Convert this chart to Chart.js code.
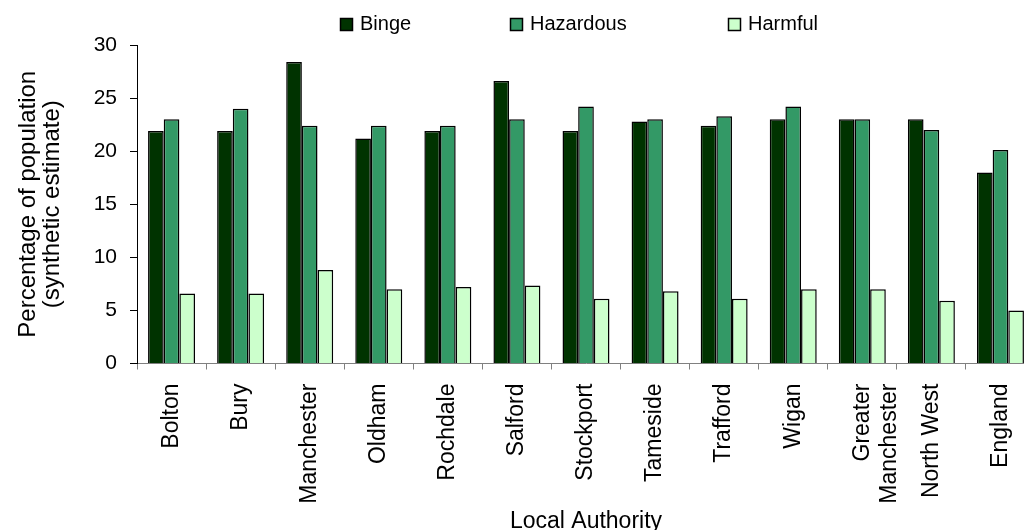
<!DOCTYPE html>
<html>
<head>
<meta charset="utf-8">
<script src="https://cdn.jsdelivr.net/npm/chart.js@4/dist/chart.umd.min.js"></script>
<style>
  html, body { margin: 0; padding: 0; background: #fff; overflow: hidden; }
  #wrap { width: 1160px; height: 530px; }
</style>
</head>
<body>
<div id="wrap"><canvas id="myBarChart" width="1160" height="530"></canvas></div>
<script>
// 数据
const categories = ['Bolton', 'Bury', 'Manchester', 'Oldham', 'Rochdale', 'Salford', 'Stockport',
    'Tameside', 'Trafford', 'Wigan', ['Greater', 'Manchester'], 'North West', 'England'];
const seriesNames = ['Binge', 'Hazardous', 'Harmful'];
const binge     = [21.9, 21.9, 28.4, 21.2, 21.9, 26.6, 21.9, 22.8, 22.4, 23.0, 23.0, 23.0, 18.0];
const hazardous = [23.0, 24.0, 22.4, 22.4, 22.4, 23.0, 24.2, 23.0, 23.3, 24.2, 23.0, 22.0, 20.1];
const harmful   = [6.6, 6.6, 8.8, 7.0, 7.2, 7.35, 6.1, 6.8, 6.1, 7.0, 7.0, 5.9, 5.0];
const yTicks    = [0, 5, 10, 15, 20, 25, 30];

const FONT = 'Liberation Sans, Arial, sans-serif';
Chart.defaults.color = '#000';
Chart.defaults.font.family = FONT;

// 图例 - 自己画，间距跟原图一致
const legendPlugin = {
    id: 'wideLegend',
    afterDraw(chart) {
        const ctx = chart.ctx;
        const xs = [340, 510, 728];
        ctx.save();
        ctx.font = '20px ' + FONT;
        ctx.textBaseline = 'alphabetic';
        ctx.textAlign = 'left';
        chart.data.datasets.forEach((ds, i) => {
            ctx.fillStyle = ds.backgroundColor;
            ctx.fillRect(xs[i] + 0.5, 18.5, 12, 12);
            ctx.lineWidth = 1.5;
            ctx.strokeStyle = '#000';
            ctx.strokeRect(xs[i] + 0.5, 18.5, 12, 12);
            ctx.fillStyle = '#000';
            ctx.fillText(ds.label, xs[i] + 20, 30);
        });
        ctx.restore();
    }
};

const ctxBar = document.getElementById('myBarChart').getContext('2d');
const myBarChart = new Chart(ctxBar, {
    type: 'bar',
    data: {
        labels: categories,
        datasets: [
            { label: seriesNames[0], data: binge, backgroundColor: '#003300' },
            { label: seriesNames[1], data: hazardous, backgroundColor: '#339966' },
            { label: seriesNames[2], data: harmful, backgroundColor: '#CCFFCC' }
        ].map(d => Object.assign(d, {
            borderColor: '#000',
            borderWidth: 1.5,
            categoryPercentage: 0.68,
            barPercentage: 1
        }))
    },
    options: {
        responsive: false,
        animation: false,
        layout: { padding: { top: 45, right: 125, bottom: 0, left: 0 } },
        plugins: {
            legend: { display: false },
            tooltip: { enabled: false }
        },
        scales: {
            x: {
                grid: { offset: true, drawOnChartArea: false, tickLength: 6, color: '#808080' },
                border: { color: '#808080', width: 1 },
                ticks: {
                    autoSkip: false, minRotation: 90, maxRotation: 90,
                    padding: 14, font: { size: 23 }
                },
                title: {
                    display: true, text: 'Local Authority',
                    font: { size: 23 }, padding: { top: 0, bottom: -5 }
                },
                afterFit(scale) { scale.height = 166.5; }
            },
            y: {
                min: 0, max: 30,
                afterBuildTicks(scale) { scale.ticks = yTicks.map(v => ({ value: v })); },
                grid: { drawOnChartArea: false, tickLength: 7, color: '#000' },
                border: { color: '#000', width: 1 },
                ticks: { padding: 13, font: { size: 21 } },
                title: {
                    display: true,
                    text: ['Percentage of population', '(synthetic estimate)'],
                    font: { size: 24, lineHeight: 1.0 },
                    padding: { top: 16, bottom: 0 }
                },
                afterFit(scale) { scale.width = 137; }
            }
        }
    },
    plugins: [legendPlugin]
});
</script>
</body>
</html>
